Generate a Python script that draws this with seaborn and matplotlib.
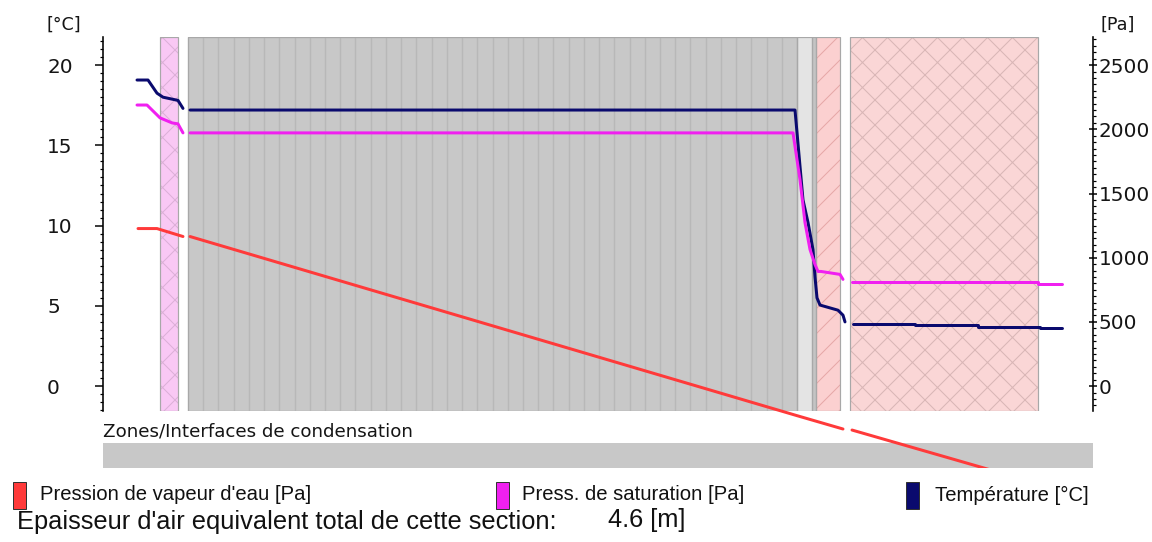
import numpy as np
import pandas as pd
import matplotlib
matplotlib.use("Agg")
import matplotlib.pyplot as plt
from matplotlib.patches import Rectangle
from matplotlib.ticker import MultipleLocator
from matplotlib.transforms import Bbox, TransformedBbox
import seaborn as sns

# ---------------------------------------------------------------------------
# Wall build-up, interior -> exterior (position units along the section)
# ---------------------------------------------------------------------------
wall_start = 23                       # interior surface
layer_widths = [18, 10, 609, 15, 4, 24, 10, 188]
masonry_slices = 40                   # sub-slices of the thick layer
section_end = 925                     # end of exterior boundary zone

# Temperature [°C] – three continuous segments (interrupted at the air gaps)
temp_pos = [
    [0, 11, 20, 26, 41, 46],
    [53, 658, 666, 671, 676, 678, 680, 683, 701, 706, 708],
    [716, 778, 778, 841, 841, 903, 903, 925],
]
temp_val = [
    [19.07, 19.07, 18.25, 18.0, 17.8, 17.3],
    [17.2, 17.2, 11.6, 10.2, 8.5, 6.8, 5.5, 5.05, 4.73, 4.42, 4.0],
    [3.9, 3.9, 3.8, 3.8, 3.7, 3.7, 3.6, 3.6],
]

# Saturation pressure [Pa]
psat_pos = [
    [0, 10, 23, 35, 41, 46],
    [53, 656, 663, 668, 673, 678, 681, 684, 703, 706],
    [715, 901, 901, 925],
]
psat_val = [
    [2189, 2189, 2089, 2050, 2042, 1972],
    [1972, 1972, 1607, 1273, 1064, 947, 893, 893, 870, 831],
    [807, 807, 792, 792],
]

# Water vapour pressure [Pa]
pv_pos = [
    [1, 20, 46],
    [53, 660, 706],
    [715, 843, 925],
]
pv_val = [
    [1227, 1227, 1165],
    [1165, -230, -334],
    [-342, -629, -813],
]

temp_ticks = [0, 5, 10, 15, 20]
pa_ticks = [0, 500, 1000, 1500, 2000, 2500]
t_range = (-1.55, 21.75)
pa_per_degree = 125

legend_labels = ["Pression de vapeur d'eau [Pa]", "Press. de saturation [Pa]",
                 "Température [°C]"]
equiv_label = "Epaisseur d'air equivalent total de cette section:"
equiv_value = "4.6 [m]"

# ---------------------------------------------------------------------------
# Styling
# ---------------------------------------------------------------------------
DPI = 75
W, H = 1152, 542
PT = 72 / DPI            # points per pixel

c_vap = "#ff3a3a"
c_sat = "#f020f0"
c_tmp = "#0a0a6e"

layer_fill = ["#f9c8f4", "#ffffff", "#c8c8c8", "#e4e4e4", "#c4c4c4",
              "#fbd0d0", "#ffffff", "#fad6d6"]
layer_hatch = ["x", None, None, None, None, "/", None, "x"]
hatch_col = ["#dcb0d8", None, None, None, None, "#e6a8a8", None, "#d9b6b6"]
is_gap = [False, True, False, False, False, False, True, False]
outline_col = "#a8a8a8"

sns.set_theme(style="white")
plt.rcParams["font.family"] = ["DejaVu Sans"]
plt.rcParams["hatch.linewidth"] = 1.0

fig = plt.figure(figsize=(W / DPI, H / DPI), dpi=DPI)


def fx(px):
    return px / W


def fy(py):
    return 1 - py / H


ax = fig.add_axes([fx(103), fy(411), fx(1093) - fx(103), fy(37) - fy(411)])
ax.set_xlim(-34, 956)
ax.set_ylim(*t_range)

# --- wall layers -----------------------------------------------------------
lefts = wall_start + np.concatenate([[0], np.cumsum(layer_widths)[:-1]])
ybot, ytop = t_range
full = ytop - ybot
ax.bar(lefts, full, width=layer_widths, bottom=ybot, align="edge",
       color=layer_fill, linewidth=0, zorder=1)
for l, w, h, hc in zip(lefts, layer_widths, layer_hatch, hatch_col):
    if h:
        ax.bar(l, full, width=w, bottom=ybot, align="edge", facecolor="none",
               edgecolor=hc, hatch=h, linewidth=0, zorder=1.2)
# sub-slices of the thick layer
m_left, m_w = lefts[2], layer_widths[2]
s_w = m_w / masonry_slices
ax.bar(m_left + s_w * np.arange(masonry_slices), full, width=s_w, bottom=ybot,
       align="edge", facecolor="none", edgecolor="#b8b8b8",
       linewidth=1.2 * PT, zorder=1.3)
for l, w, g in zip(lefts, layer_widths, is_gap):
    if not g:
        ax.bar(l, full, width=w, bottom=ybot, align="edge", facecolor="none",
               edgecolor=outline_col, linewidth=1.2 * PT, zorder=1.4)

# --- temperature (left axis) -----------------------------------------------
tdf = pd.DataFrame({
    "pos": np.concatenate(temp_pos),
    "T": np.concatenate(temp_val),
    "seg": np.concatenate([[i] * len(p) for i, p in enumerate(temp_pos)]),
})
sns.lineplot(data=tdf, x="pos", y="T", units="seg", estimator=None, sort=False,
             color=c_tmp, linewidth=3 * PT, ax=ax, zorder=5)

ax.set_xlabel("")
ax.set_ylabel("")
ax.set_yticks(temp_ticks)
ax.yaxis.set_minor_locator(MultipleLocator(0.5))
ax.tick_params(axis="x", bottom=False, labelbottom=False)
ax.tick_params(axis="y", which="major", left=True, direction="out",
               length=8 * PT, width=1.5 * PT, color="black",
               labelsize=20 * PT, labelcolor="#151515", pad=48 * PT)
ax.tick_params(axis="y", which="minor", left=True, direction="out",
               length=3 * PT, width=1.2 * PT, color="black")
for t in ax.get_yticklabels():
    t.set_horizontalalignment("left")
for s in ["top", "right", "bottom"]:
    ax.spines[s].set_visible(False)
ax.spines["left"].set_color("black")
ax.spines["left"].set_linewidth(1.6 * PT)

# --- pressures (right axis) ------------------------------------------------
ax2 = ax.twinx()
ax2.set_ylim(t_range[0] * pa_per_degree, t_range[1] * pa_per_degree)
pdf = pd.concat([
    pd.DataFrame({"pos": np.concatenate(pv_pos), "Pa": np.concatenate(pv_val),
                  "seg": np.concatenate([[i] * len(p) for i, p in enumerate(pv_pos)]),
                  "series": "vap"}),
    pd.DataFrame({"pos": np.concatenate(psat_pos), "Pa": np.concatenate(psat_val),
                  "seg": np.concatenate([[i] * len(p) for i, p in enumerate(psat_pos)]),
                  "series": "sat"}),
])
pdf["grp"] = pdf["series"] + pdf["seg"].astype(str)
sns.lineplot(data=pdf, x="pos", y="Pa", hue="series", units="grp",
             estimator=None, sort=False,
             palette={"vap": c_vap, "sat": c_sat}, linewidth=3 * PT,
             legend=False, ax=ax2)
ax2.set_xlabel("")
ax2.set_ylabel("")
ax2.set_yticks(pa_ticks)
ax2.yaxis.set_minor_locator(MultipleLocator(50))
ax2.tick_params(axis="y", which="major", right=True, direction="inout",
                length=8 * PT, width=1.5 * PT, color="black",
                labelsize=20 * PT, labelcolor="#151515", pad=2 * PT)
ax2.tick_params(axis="y", which="minor", right=True, direction="out",
                length=3 * PT, width=1.2 * PT, color="black")
for s in ["top", "left", "bottom"]:
    ax2.spines[s].set_visible(False)
ax2.spines["right"].set_color("black")
ax2.spines["right"].set_linewidth(1.6 * PT)

# pressure curves may run below the section down to the condensation strip
clip = TransformedBbox(Bbox([[fx(103), fy(468)], [fx(1093), fy(37)]]),
                       fig.transFigure)
for ln in ax2.lines:
    ln.set_clip_box(clip)

# unit labels
fig.text(fx(47), fy(25), "[°C]", ha="left", va="center",
         fontsize=17.5 * PT, color="#151515")
fig.text(fx(1101), fy(25), "[Pa]", ha="left", va="center",
         fontsize=17.5 * PT, color="#151515")

# --- condensation zones strip ----------------------------------------------
axc = fig.add_axes([fx(103), fy(468), fx(1093) - fx(103), fy(443) - fy(468)])
axc.set_facecolor("#c8c8c8")
axc.set_xticks([])
axc.set_yticks([])
for s in axc.spines.values():
    s.set_visible(False)
axc.set_zorder(-1)
fig.text(fx(103), fy(432), "Zones/Interfaces de condensation", ha="left",
         va="center", fontsize=18.2 * PT, color="#151515")

# --- legend ------------------------------------------------------------------
for (sx, tx), lab, col in zip([(13, 40), (496, 522), (906, 935)],
                              legend_labels, [c_vap, c_sat, c_tmp]):
    fig.add_artist(Rectangle((fx(sx), fy(509)), fx(13), fy(482) - fy(509),
                             transform=fig.transFigure, facecolor=col,
                             edgecolor="#333333", linewidth=1 * PT))
    fig.text(fx(tx), fy(495), lab, ha="left", va="center",
             fontsize=20.2 * PT, family="Liberation Sans", color="#111111")

fig.text(fx(17), fy(522), equiv_label, ha="left", va="center",
         fontsize=25.4 * PT, family="Liberation Sans", color="#111111")
fig.text(fx(608), fy(520), equiv_value, ha="left", va="center",
         fontsize=25.4 * PT, family="Liberation Sans", color="#111111")

fig.savefig("out.png", dpi=DPI)
